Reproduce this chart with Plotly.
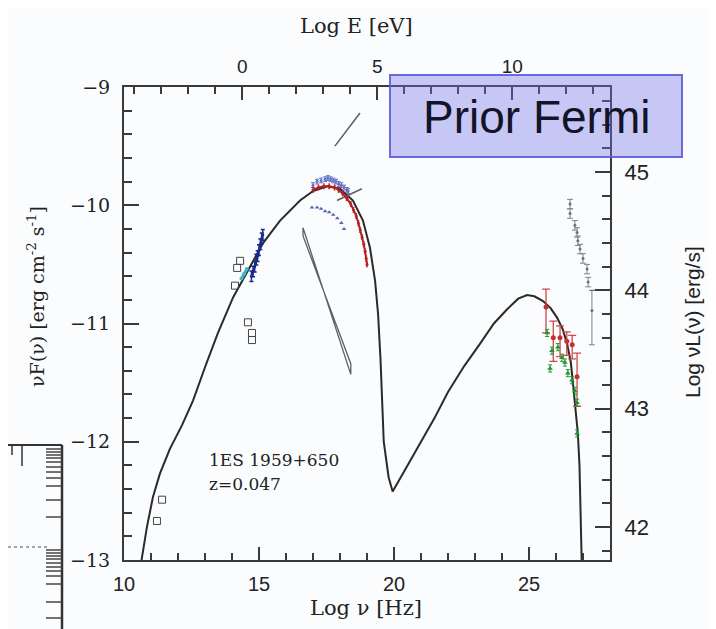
import plotly.graph_objects as go

# ---------------- data ----------------
# SSC model curve: log nu [Hz], log nuF(nu) [erg cm^-2 s^-1]
model_nu = [10.55, 10.65, 10.85, 11.07, 11.33, 11.7, 12.15, 12.56, 13.0, 13.48, 14.04, 14.56,
            15.15, 15.78, 16.52, 17.0, 17.52, 18.0, 18.48, 18.85, 19.11, 19.3, 19.41, 19.5,
            19.56, 19.62, 19.8, 19.95, 20.5, 21.0, 21.5, 22.0, 22.6, 23.19, 23.7, 24.19,
            24.6, 24.93, 25.2, 25.52, 25.8, 26.04, 26.25, 26.41, 26.55, 26.63, 26.72,
            26.81, 26.87, 26.92, 26.96, 26.98]
model_f = [-13.35, -13.0, -12.72, -12.47, -12.27, -12.06, -11.86, -11.65, -11.37, -11.08, -10.78, -10.56,
           -10.32, -10.13, -9.96, -9.88, -9.84, -9.86, -9.96, -10.13, -10.36, -10.64, -10.92, -11.3,
           -11.62, -12.0, -12.3, -12.42, -12.2, -12.0, -11.8, -11.58, -11.36, -11.17, -11.0, -10.88,
           -10.79, -10.76, -10.77, -10.81, -10.87, -10.95, -11.05, -11.17, -11.33, -11.51, -11.7,
           -11.93, -12.2, -12.6, -13.0, -13.3]

# archival radio / optical (open squares)
sq_nu = [11.22, 11.41, 14.30, 14.19, 14.11, 14.59, 14.74, 14.74]
sq_f = [-12.67, -12.49, -10.47, -10.53, -10.68, -10.99, -11.08, -11.14]

# optical-UV (dark blue)
opt_nu = [14.72, 14.78, 14.84, 14.90, 14.95, 15.00, 15.05, 15.10, 15.14]
opt_f = [-10.60, -10.56, -10.52, -10.46, -10.43, -10.38, -10.33, -10.28, -10.25]

# optical (cyan)
cy_nu = [14.35, 14.45, 14.55]
cy_f = [-10.62, -10.58, -10.54]

# X-ray high state (blue)
xb_nu = [17.0, 17.15, 17.3, 17.45, 17.55, 17.65, 17.75, 17.85, 17.95, 18.05, 18.15, 18.25, 18.3]
xb_f = [-9.83, -9.80, -9.79, -9.78, -9.77, -9.78, -9.79, -9.80, -9.82, -9.83, -9.85, -9.87, -9.88]

# X-ray (red)
xr_nu = [17.0, 17.2, 17.4, 17.6, 17.8, 17.95, 18.1, 18.25, 18.4, 18.5, 18.6, 18.68,
         18.75, 18.82, 18.88, 18.93, 18.97, 19.0]
xr_f = [-9.87, -9.85, -9.84, -9.84, -9.85, -9.87, -9.90, -9.94, -9.99, -10.04, -10.09, -10.15,
        -10.21, -10.27, -10.33, -10.39, -10.45, -10.5]

# X-ray low state (blue triangles)
xl_nu = [16.96, 17.15, 17.3, 17.45, 17.6, 17.75, 17.9, 18.05, 18.15]
xl_f = [-10.02, -10.02, -10.03, -10.05, -10.06, -10.08, -10.11, -10.15, -10.2]

# hard X-ray spectral segments
seg1_nu = [17.81, 18.74]
seg1_f = [-9.50, -9.22]
seg2_nu = [17.89, 18.81]
seg2_f = [-9.96, -9.86]

# bow-tie
bow_nu = [16.63, 18.40, 18.40, 16.63, 16.63]
bow_f = [-10.19, -11.43, -11.34, -10.26, -10.19]

# TeV (red, with errors)
tr_nu = [25.63, 25.9, 26.15, 26.4, 26.6, 26.78]
tr_f = [-10.86, -11.12, -11.12, -11.15, -11.18, -11.45]
tr_ep = [0.15, 0.14, 0.10, 0.08, 0.08, 0.20]
tr_em = [0.22, 0.20, 0.16, 0.12, 0.12, 0.25]

# TeV (green)
tg_nu = [25.67, 25.78, 25.85, 26.07, 26.22, 26.33, 26.44, 26.59, 26.70, 26.78, 26.78]
tg_f = [-11.08, -11.38, -11.23, -11.20, -11.29, -11.33, -11.42, -11.48, -11.57, -11.67, -11.93]

# TeV flare (grey)
tk_nu = [26.52, 26.52, 26.70, 26.78, 26.81, 26.89, 27.0, 27.15, 27.19, 27.33]
tk_f = [-9.99, -10.07, -10.17, -10.23, -10.30, -10.37, -10.45, -10.54, -10.65, -10.89]
tk_ep = [0.04, 0.04, 0.04, 0.04, 0.04, 0.04, 0.04, 0.04, 0.04, 0.17]
tk_em = [0.04, 0.04, 0.04, 0.04, 0.04, 0.04, 0.04, 0.04, 0.04, 0.29]
tk_lim_nu = [27.26, 27.93]
tk_lim_f = [-10.72, -10.72]

# axes
x_range = [10, 28]
y_range = [-13, -9]
E_OFFSET = 14.38          # log E[eV] = log nu - 14.38
L_OFFSET = 54.72          # log nuL = log nuF + 54.72
x_ticks = [10, 15, 20, 25]
y_ticks = [-13, -12, -11, -10, -9]
e_ticks = [0, 5, 10]
l_ticks = [42, 43, 44, 45]

# ---------------- figure ----------------
OFF = 8                     # page body margin
W, H = 716 - OFF, 629 - OFF
L, R, T, B = 124 - OFF, 610 - OFF, 87 - OFF, 560 - OFF


def px(x):
    return (x - OFF - L) / (R - L)


def py(y):
    return (B - (y - OFF)) / (B - T)


fig = go.Figure()

ax_col = "#3a3a3a"
fig.add_trace(go.Scatter(x=model_nu, y=model_f, mode="lines",
                         line=dict(color="#2a2a2a", width=2), hoverinfo="skip"))
fig.add_trace(go.Scatter(x=bow_nu, y=bow_f, mode="lines",
                         line=dict(color="#606060", width=1.3)))
fig.add_trace(go.Scatter(x=seg1_nu, y=seg1_f, mode="lines",
                         line=dict(color="#606060", width=1.6)))
fig.add_trace(go.Scatter(x=seg2_nu, y=seg2_f, mode="lines",
                         line=dict(color="#606060", width=1.6)))
fig.add_trace(go.Scatter(x=sq_nu, y=sq_f, mode="markers",
                         marker=dict(symbol="square-open", size=7, color="#444",
                                     line=dict(width=1))))
fig.add_trace(go.Scatter(x=cy_nu, y=cy_f, mode="lines+markers",
                         line=dict(color="#40b8c8", width=3),
                         marker=dict(size=4, color="#40b8c8")))
fig.add_trace(go.Scatter(x=opt_nu, y=opt_f, mode="lines+markers",
                         line=dict(color="#1b2a8a", width=2),
                         marker=dict(symbol="circle", size=3, color="#1b2a8a"),
                         error_y=dict(type="data", array=[0.045] * len(opt_f),
                                      color="#1b2a8a", thickness=1.5, width=2)))
fig.add_trace(go.Scatter(x=xl_nu, y=xl_f, mode="markers",
                         marker=dict(symbol="triangle-up", size=4, color="#5262bc")))
fig.add_trace(go.Scatter(x=xb_nu, y=xb_f, mode="markers",
                         marker=dict(symbol="circle", size=3, color="#6070c4"),
                         error_y=dict(type="data", array=[0.02] * len(xb_f),
                                      color="#6070c4", thickness=1, width=2)))
fig.add_trace(go.Scatter(x=xr_nu, y=xr_f, mode="lines+markers",
                         line=dict(color="#b82020", width=2),
                         marker=dict(size=3, color="#b82020"),
                         error_y=dict(type="data", array=[0.02] * len(xr_f),
                                      color="#b82020", thickness=1, width=1)))
fig.add_trace(go.Scatter(x=tk_nu, y=tk_f, mode="markers",
                         marker=dict(symbol="circle", size=3, color="#707070"),
                         error_y=dict(type="data", symmetric=False, array=tk_ep,
                                      arrayminus=tk_em, color="#808080",
                                      thickness=1, width=3)))
fig.add_trace(go.Scatter(x=tk_lim_nu, y=tk_lim_f, mode="lines",
                         line=dict(color="#707070", width=1.2)))
fig.add_trace(go.Scatter(x=tr_nu, y=tr_f, mode="markers",
                         marker=dict(symbol="circle", size=5, color="#c83030"),
                         error_y=dict(type="data", symmetric=False, array=tr_ep,
                                      arrayminus=tr_em, color="#d04848",
                                      thickness=1.3, width=4)))
fig.add_trace(go.Scatter(x=tg_nu, y=tg_f, mode="markers",
                         marker=dict(symbol="triangle-up", size=5, color="#23962a"),
                         error_y=dict(type="data", array=[0.03] * len(tg_f),
                                      color="#23962a", thickness=1, width=2)))
# dummy traces to activate the secondary axes
fig.add_trace(go.Scatter(x=[None], y=[None], xaxis="x2", yaxis="y", hoverinfo="skip"))
fig.add_trace(go.Scatter(x=[None], y=[None], xaxis="x", yaxis="y2", hoverinfo="skip"))

tick_font_serif = dict(family="DejaVu Serif", size=19, color="#222")
tick_font_sans = dict(family="Liberation Sans", size=20, color="#222")

common = dict(showgrid=False, zeroline=False, showline=True, linecolor=ax_col,
              linewidth=2, ticks="inside", tickcolor=ax_col, tickwidth=2)

fig.update_layout(
    width=W, height=H,
    margin=dict(l=L, r=W - R, t=T, b=H - B),
    paper_bgcolor="#fafcfe", plot_bgcolor="#fafcfe",
    showlegend=False,
    xaxis=dict(range=x_range, tickvals=x_ticks, ticklen=13, tickfont=tick_font_sans,
               minor=dict(dtick=1, tick0=10, ticks="inside", ticklen=7, tickwidth=2,
                          tickcolor=ax_col),
               ticklabelstandoff=5, **common),
    xaxis2=dict(range=[x_range[0] - E_OFFSET, x_range[1] - E_OFFSET], overlaying="x",
                side="top", anchor="y", tickvals=e_ticks, ticklen=13,
                tickfont=dict(family="Liberation Sans", size=19, color="#222"),
                minor=dict(dtick=1, tick0=0, ticks="inside", ticklen=7, tickwidth=2,
                           tickcolor=ax_col),
                ticklabelstandoff=4, **common),
    yaxis=dict(range=y_range, tickvals=y_ticks, ticklen=15, tickfont=tick_font_serif,
               minor=dict(dtick=0.2, tick0=-13, ticks="inside", ticklen=8, tickwidth=2,
                          tickcolor=ax_col),
               ticklabelstandoff=8, **common),
    yaxis2=dict(range=[y_range[0] + L_OFFSET, y_range[1] + L_OFFSET], overlaying="y",
                side="right", anchor="x", tickvals=l_ticks, ticklen=15,
                tickfont=dict(family="Liberation Sans", size=22, color="#222"),
                minor=dict(dtick=0.2, tick0=42, ticks="inside", ticklen=8, tickwidth=2,
                           tickcolor=ax_col),
                ticklabelstandoff=8, **common),
)

title_font = dict(family="DejaVu Serif", size=21, color="#222")
anns = [
    dict(x=px(356), y=py(26), text="Log E [eV]", font=title_font),
    dict(x=px(366), y=py(608), text="Log ν [Hz]", font=title_font),
    dict(x=px(36), y=py(297), text="νF(ν) [erg cm<sup>-2</sup> s<sup>-1</sup>]",
         font=dict(family="DejaVu Serif", size=19, color="#222"), textangle=-90),
    dict(x=px(692), y=py(322), text="Log νL(ν) [erg/s]",
         font=dict(family="Liberation Sans", size=21, color="#222"), textangle=-90),
    dict(x=px(207), y=py(460), text="1ES 1959+650", xanchor="left",
         font=dict(family="DejaVu Serif", size=17, color="#222")),
    dict(x=px(207), y=py(484), text="z=0.047", xanchor="left",
         font=dict(family="DejaVu Serif", size=17, color="#222")),
    dict(x=px(536), y=py(117), text="Prior Fermi",
         font=dict(family="Liberation Sans", size=46, color="#141428")),
]
for a in anns:
    a.setdefault("xanchor", "center")
    a.update(xref="paper", yref="paper", yanchor="middle", showarrow=False)
    fig.add_annotation(**a)

shapes = [
    # "Prior Fermi" box
    dict(type="rect", x0=px(390), x1=px(682), y0=py(157), y1=py(75),
         fillcolor="rgba(112,112,228,0.38)", line=dict(color="rgba(92,92,222,0.9)", width=2),
         layer="above"),
    # neighbouring panel fragment at the lower left
    dict(type="line", x0=px(62), x1=px(62), y0=py(445), y1=py(629),
         line=dict(color="#333", width=2.5)),
    dict(type="line", x0=px(OFF), x1=px(62), y0=py(445), y1=py(445),
         line=dict(color="#333", width=2)),
    dict(type="line", x0=px(12), x1=px(12), y0=py(445), y1=py(455),
         line=dict(color="#333", width=1.5)),
    dict(type="line", x0=px(22), x1=px(22), y0=py(445), y1=py(466),
         line=dict(color="#333", width=1.5)),
    dict(type="line", x0=px(OFF), x1=px(50), y0=py(547), y1=py(547),
         line=dict(color="#888", width=1.5, dash="dot")),
]
for yy in [449, 452, 455, 458, 462, 467, 472, 478, 486, 500, 517,
           550, 553, 556, 559, 563, 567, 571, 576, 584, 602, 618]:
    shapes.append(dict(type="line", x0=px(46), x1=px(62), y0=py(yy), y1=py(yy),
                       line=dict(color="#444", width=1.5)))
for s in shapes:
    s.update(xref="paper", yref="paper")
    fig.add_shape(**s)

fig.write_html("out.html")
